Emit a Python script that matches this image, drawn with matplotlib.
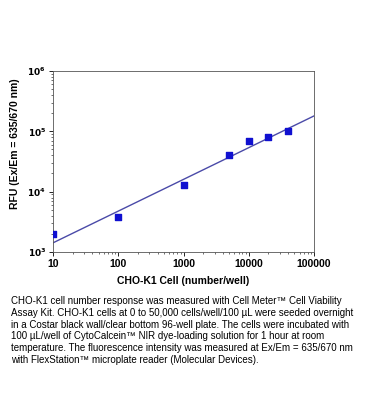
import numpy as np
import matplotlib.pyplot as plt

plt.rcParams['font.family'] = ['Liberation Sans', 'DejaVu Sans']

# data
cells = [10, 100, 1000, 5000, 10000, 20000, 40000]
rfu = [2000, 3800, 13000, 40000, 70000, 80000, 100000]

# fitted line ends
fit_x = [10, 100000]
fit_y = [1420, 180000]

caption = ("CHO-K1 cell number response was measured with Cell Meter\u2122 Cell Viability\n"
           "Assay Kit. CHO-K1 cells at 0 to 50,000 cells/well/100 \u00b5L were seeded overnight\n"
           "in a Costar black wall/clear bottom 96-well plate. The cells were incubated with\n"
           "100 \u00b5L/well of CytoCalcein\u2122 NIR dye-loading solution for 1 hour at room\n"
           "temperature. The fluorescence intensity was measured at Ex/Em = 635/670 nm\n"
           "with FlexStation\u2122 microplate reader (Molecular Devices).")

fig = plt.figure(figsize=(3.66, 4.2), dpi=100)
ax = fig.add_axes([0.145, 0.40, 0.713, 0.431])

ax.plot(fit_x, fit_y, color='#4a4aa8', lw=1.0, zorder=2)
ax.scatter(cells, rfu, marker='s', s=16, color='#1010d0', zorder=3, clip_on=True)

ax.set_xscale('log')
ax.set_yscale('log')
ax.set_xlim(10, 100000)
ax.set_ylim(1000, 1000000)

ax.set_xticks([10, 100, 1000, 10000, 100000])
ax.set_xticklabels(['10', '100', '1000', '10000', '100000'])
ax.set_yticks([1e3, 1e4, 1e5, 1e6])
ax.set_yticklabels([r'$\mathbf{10^3}$', r'$\mathbf{10^4}$', r'$\mathbf{10^5}$', r'$\mathbf{10^6}$'])

ax.tick_params(which='major', direction='out', length=3, width=0.6, labelsize=7.5, pad=2)
ax.tick_params(axis='y', which='major', labelsize=6.5)
ax.tick_params(which='minor', direction='out', length=1.5, width=0.4)
for lab in ax.get_xticklabels() + ax.get_yticklabels():
    lab.set_fontweight('bold')
for sp in ax.spines.values():
    sp.set_linewidth(0.6)
    sp.set_color('#555555')

ax.set_xlabel('CHO-K1 Cell (number/well)', fontsize=7.5, fontweight='bold', labelpad=5)
ax.set_ylabel('RFU (Ex/Em = 635/670 nm)', fontsize=7.5, fontweight='bold')
ax.yaxis.set_label_coords(-0.125, 0.60)

fig.text(0.03, 0.295, caption, fontsize=7.0, va='top', ha='left', linespacing=1.22)

fig.savefig('out.png', dpi=100)
